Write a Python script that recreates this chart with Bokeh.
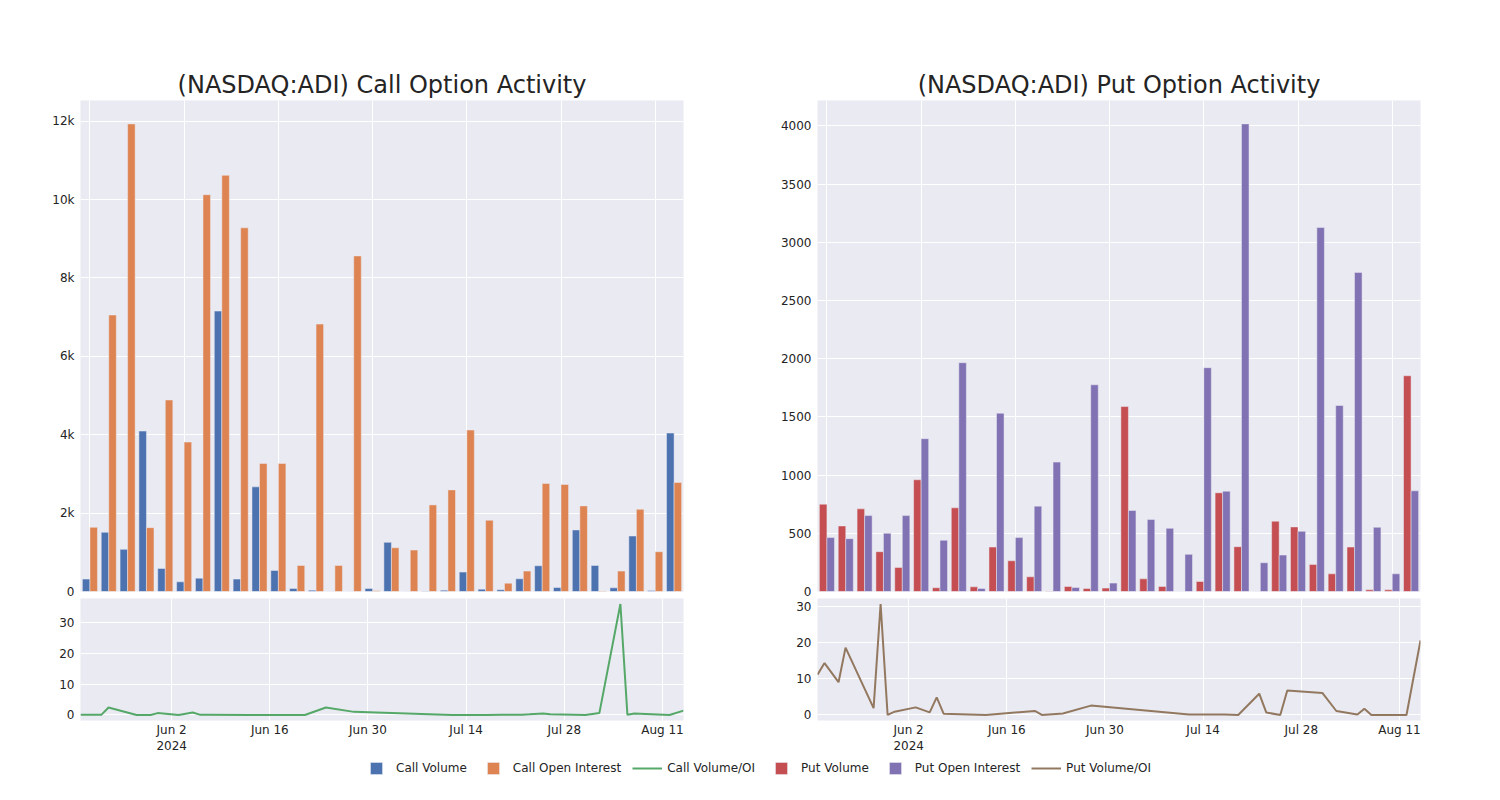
import numpy as np
import pandas as pd
from bokeh.plotting import figure
from bokeh.layouts import column, row
from bokeh.models import (ColumnDataSource, Range1d, FixedTicker, SingleIntervalTicker,
                          NumeralTickFormatter, DatetimeTickFormatter, Legend, LegendItem,
                          DataRange1d)
from bokeh.transform import dodge
from bokeh.embed import file_html
from bokeh.resources import INLINE

# ---------------- data ----------------
dates = ["2024-05-20", "2024-05-21", "2024-05-23", "2024-05-24", "2024-05-28", "2024-05-29",
         "2024-05-30", "2024-05-31", "2024-06-03", "2024-06-05", "2024-06-06", "2024-06-07",
         "2024-06-13", "2024-06-20", "2024-06-21", "2024-06-24", "2024-06-28", "2024-07-12",
         "2024-07-15", "2024-07-17", "2024-07-19", "2024-07-22", "2024-07-23", "2024-07-25",
         "2024-07-26", "2024-07-31", "2024-08-02", "2024-08-05", "2024-08-06", "2024-08-07",
         "2024-08-12", "2024-08-14"]

call_volume = [316, 1510, 1075, 4094, 589, 247, 341, 7156, 316, 2670, 537, 77, 34, 0, 0, 77,
               1254, 0, 5, 34, 495, 60, 43, 324, 657, 102, 1570, 665, 94, 1416, 26, 4043]
call_oi = [1638, 7054, 11932, 1629, 4887, 3813, 10125, 10619, 9280, 3267, 3267, 665, 6823, 665,
           8563, 17, 1117, 1058, 2209, 2593, 4120, 1817, 213, 520, 2755, 2730, 2184, 15, 520,
           2098, 1015, 2781]
call_ratio = [0.1, 0.1, 0.1, 2.4, 0.0, 0.0, 0.0, 0.6, 0.0, 0.8, 0.1, 0.1, 0.0, 0.0, 0.0, 2.4,
              1.0, 0.0, 0.0, 0.0, 0.1, 0.1, 0.2, 0.5, 0.2, 0.0, 0.6, 35.9, 0.1, 0.5, 0.0, 1.4]

put_volume = [750, 563, 710, 342, 207, 960, 32, 719, 40, 382, 264, 126, 3, 43, 26, 29, 1589, 109,
              43, 0, 86, 848, 385, 0, 604, 555, 233, 152, 382, 14, 14, 1854]
put_oi = [463, 454, 652, 500, 652, 1313, 440, 1966, 26, 1532, 463, 733, 1112, 34, 1776, 72, 696,
          618, 543, 319, 1923, 862, 4018, 247, 313, 517, 3127, 1598, 2742, 552, 152, 865]
put_ratio = [11.2, 14.4, 9.1, 18.7, 1.9, 30.8, 0.0, 0.9, 2.1, 0.7, 4.9, 0.3, 0.0, 1.1, 0.0, 0.4,
             2.6, 0.1, 0.1, 0.1, 0.0, 5.9, 0.7, 0.0, 6.8, 6.1, 1.1, 0.1, 1.7, 0.0, 0.0, 20.7]

titles = ["(NASDAQ:ADI) Call Option Activity", "(NASDAQ:ADI) Put Option Activity"]
legend_labels = ["Call Volume", "Call Open Interest", "Call Volume/OI",
                 "Put Volume", "Put Open Interest", "Put Volume/OI"]
date_tick_start = "2024-06-02"

# ---------------- style ----------------
BG = "#EAEAF2"
TXT = "#242424"
FONT = "DejaVu Sans"
C_BLUE, C_ORANGE, C_GREEN = "#4C72B0", "#DD8452", "#55A868"
C_RED, C_PURPLE, C_BROWN = "#C44E52", "#8172B3", "#937860"

FRAME_W = 603
MR = 62


def style(p):
    p.background_fill_color = BG
    p.border_fill_color = "white"
    p.outline_line_color = None
    for g in p.grid:
        g.grid_line_color = "white"
        g.grid_line_width = 1
    for ax in p.axis:
        ax.axis_line_color = None
        ax.major_tick_line_color = None
        ax.minor_tick_line_color = None
        ax.major_tick_out = 0
        ax.major_tick_in = 0
        ax.major_label_standoff = 2
        ax.major_label_text_font = FONT
        ax.major_label_text_font_size = "12px"
        ax.major_label_text_color = TXT


def bar_fig(title, vol, oi, c1, c2, interval, fmt, ml):
    n = len(dates)
    src = ColumnDataSource(dict(idx=np.arange(n), vol=vol, oi=oi))
    top = max(max(vol), max(oi)) * 1.05
    p = figure(width=ml + FRAME_W + MR, height=598, x_range=Range1d(-0.5, n - 0.5),
               y_range=Range1d(0, top), x_axis_location=None, output_backend="svg",
               toolbar_location=None, title=title,
               min_border_left=ml, min_border_right=MR, min_border_top=100, min_border_bottom=7)
    p.vbar(x=dodge("idx", -0.2), top="vol", width=0.4, source=src,
           fill_color=c1, line_color=BG, line_width=0.5)
    p.vbar(x=dodge("idx", 0.2), top="oi", width=0.4, source=src,
           fill_color=c2, line_color=BG, line_width=0.5)
    p.xgrid.ticker = FixedTicker(ticks=list(range(0, n, 5)))
    p.yaxis.ticker = SingleIntervalTicker(interval=interval)
    if fmt:
        p.yaxis.formatter = NumeralTickFormatter(format=fmt)
    p.title.align = "center"
    p.title.text_font = FONT
    p.title.text_font_size = "24px"
    p.title.text_font_style = "normal"
    p.title.text_color = TXT
    p.title.standoff = 3
    style(p)
    return p


def line_fig(ratio, color, ml):
    x = pd.to_datetime(dates)
    p = figure(width=ml + FRAME_W + MR, height=162, x_axis_type="datetime",
               x_range=Range1d(x[0], x[-1]),
               y_range=DataRange1d(range_padding=0.1), output_backend="svg",
               toolbar_location=None, min_border_left=ml, min_border_right=MR,
               min_border_top=0, min_border_bottom=40)
    p.line(x, ratio, line_color=color, line_width=2)
    ticks = pd.date_range(date_tick_start, x[-1], freq="14D")
    p.xaxis.ticker = FixedTicker(ticks=[t.value // 10**6 for t in ticks])
    p.xaxis.formatter = DatetimeTickFormatter(
        days="%b %-d", months="%b %-d", hours="%b %-d", years="%b %-d",
        context=DatetimeTickFormatter(days="%Y", months="%Y", hours="%Y", years="%Y"),
        context_which="start")
    p.yaxis.ticker = SingleIntervalTicker(interval=10)
    style(p)
    return p


tl = bar_fig(titles[0], call_volume, call_oi, C_BLUE, C_ORANGE, 2000, "0a", 80)
tr = bar_fig(titles[1], put_volume, put_oi, C_RED, C_PURPLE, 500, None, 72)
bl = line_fig(call_ratio, C_GREEN, 80)
br = line_fig(put_ratio, C_BROWN, 72)

# ---------------- legend ----------------
total_w = tl.width + tr.width
lg = figure(width=total_w, height=24, x_range=Range1d(0, 1), y_range=Range1d(0, 1),
            output_backend="svg", toolbar_location=None, min_border=0,
            x_axis_location=None, y_axis_location=None)
lg.outline_line_color = None
lg.grid.visible = False
lg.background_fill_color = "white"
idx = np.arange(len(dates))
specs = [("sq", C_BLUE, call_volume), ("sq", C_ORANGE, call_oi), ("ln", C_GREEN, call_ratio),
         ("sq", C_RED, put_volume), ("sq", C_PURPLE, put_oi), ("ln", C_BROWN, put_ratio)]
items = []
for lab, (kind, col, vals) in zip(legend_labels, specs):
    if kind == "sq":
        r = lg.scatter(x=idx, y=vals, marker="square", size=12, fill_color=col,
                       line_color=BG, line_width=0.5)
    else:
        r = lg.line(x=idx, y=vals, line_color=col, line_width=2)
    r.visible = False
    items.append(LegendItem(label=lab, renderers=[r]))
legend = Legend(items=items, orientation="horizontal", location=(361, 1),
                glyph_width=30, glyph_height=30, padding=0, margin=0, spacing=11,
                label_standoff=5, border_line_color=None, background_fill_alpha=0,
                label_text_font=FONT, label_text_font_size="12px", label_text_color=TXT)
lg.add_layout(legend, "center")

layout = column(row(column(tl, bl), column(tr, br)), lg)

open("out.html", "w").write(file_html(layout, INLINE))
